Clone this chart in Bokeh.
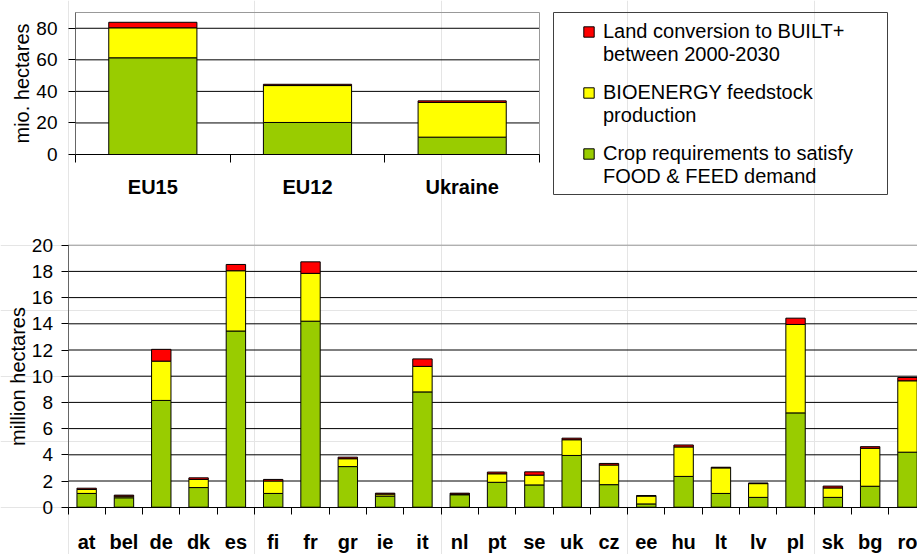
from bokeh.plotting import figure
from bokeh.models import (Range1d, FixedTicker, Legend, LegendItem, ColumnDataSource,
                          BoxAnnotation, LinearAxis)
from bokeh.embed import file_html
from bokeh.resources import INLINE

# ---------------- data ----------------
regions = ["EU15", "EU12", "Ukraine"]
region_food = [61.3, 20.3, 11.0]
region_bio = [19.0, 23.4, 22.0]
region_built = [3.5, 0.8, 1.0]

countries = ["at", "bel", "de", "dk", "es", "fi", "fr", "gr", "ie", "it", "nl", "pt",
             "se", "uk", "cz", "ee", "hu", "lt", "lv", "pl", "sk", "bg", "ro"]
food = [1.05, 0.72, 8.15, 1.5, 13.45, 1.05, 14.2, 3.1, 0.85, 8.8, 0.95, 1.9,
        1.7, 3.95, 1.72, 0.25, 2.35, 1.05, 0.75, 7.2, 0.75, 1.6, 4.2]
bio = [0.3, 0.12, 3.0, 0.62, 4.6, 0.95, 3.65, 0.6, 0.15, 1.95, 0.05, 0.65,
       0.75, 1.2, 1.5, 0.6, 2.25, 1.95, 1.05, 6.75, 0.72, 2.9, 5.45]
built = [0.1, 0.08, 0.9, 0.12, 0.48, 0.12, 0.88, 0.12, 0.07, 0.57, 0.07, 0.13,
         0.25, 0.12, 0.12, 0.04, 0.15, 0.05, 0.05, 0.48, 0.14, 0.12, 0.25]

series = ["food", "bio", "built"]
series_colors = ["#99CC00", "#FFFF00", "#FF0000"]
legend_order = ["built", "bio", "food"]
legend_line1 = {"built": "Land conversion to BUILT+",
                "bio": "BIOENERGY feedstock",
                "food": "Crop requirements to satisfy"}
legend_line2 = {"built": "between 2000-2030",
                "bio": "production",
                "food": "FOOD & FEED demand"}
top_ticks = [0, 20, 40, 60, 80]
top_max = 90
bottom_ticks = list(range(0, 21, 2))
bottom_max = 20

FONT = "Liberation Sans"

# ---------------- page geometry (pixels) ----------------
W, H = 917, 554
# bottom chart: x=0 at 67.5px, one category = 37.31px ; y=0 at 506.7px, 13.1px per unit
BX0, BPX = 67.5, 37.31 / 2
BY0, BPY = 506.7, 13.1
# top chart: plot area 75..539 x 12..154
TX0, TPX = 75.0, (539 - 75) / (2 * len(regions))
TY0, TPY = 154.0, (154 - 12) / top_max

p = figure(width=W, height=H,
           x_range=Range1d(-BX0 / BPX, (W - BX0) / BPX),
           y_range=Range1d(-(H - BY0) / BPY, BY0 / BPY),
           output_backend="svg", toolbar_location=None,
           x_axis_location=None, y_axis_location=None, min_border=0)
p.extra_x_ranges = {"tx": Range1d(-TX0 / TPX, (W - TX0) / TPX)}
p.extra_y_ranges = {"ty": Range1d(-(H - TY0) / TPY, TY0 / TPY)}
p.outline_line_color = None
p.background_fill_color = "white"


def add_chart(labels, stacks, yticks, ymax, ylabel, xr, yr, ystand, xstand, tick_out, width):
    n = len(labels)
    centers = [2 * i + 1 for i in range(n)]
    src = ColumnDataSource(dict(x=centers, **stacks))
    kw = {}
    if xr:
        kw = dict(x_range_name=xr, y_range_name=yr)
    grid = [t for t in yticks if 0 < t < ymax]
    p.segment(x0=[0] * len(grid), x1=[2 * n] * len(grid), y0=grid, y1=grid,
              line_color="black", line_width=1, **kw)
    rs = p.vbar_stack(series, x="x", width=width, source=src, fill_color=series_colors,
                      line_color="black", line_width=1, **kw)
    axkw = dict(x_range_name=xr or "default", y_range_name=yr or "default")
    xa = LinearAxis(fixed_location=0, bounds=(0, 2 * n), **axkw)
    xa.ticker = FixedTicker(ticks=centers, minor_ticks=[2 * i for i in range(n + 1)])
    xa.major_label_overrides = {c: l for c, l in zip(centers, labels)}
    xa.major_tick_line_color = None
    xa.major_tick_out = tick_out
    xa.major_tick_in = 0
    xa.minor_tick_out = tick_out
    xa.minor_tick_in = 0
    xa.minor_tick_line_color = "black"
    xa.axis_line_color = "black"
    xa.major_label_text_font = FONT
    xa.major_label_text_font_size = "20px"
    xa.major_label_text_font_style = "bold"
    xa.major_label_text_color = "black"
    xa.major_label_standoff = xstand
    p.add_layout(xa, "below")

    ya = LinearAxis(fixed_location=0, bounds=(0, ymax), **axkw)
    ya.ticker = FixedTicker(ticks=yticks)
    ya.axis_line_color = "#666666"
    ya.major_tick_line_color = "black"
    ya.major_tick_out = 7
    ya.major_tick_in = 0
    ya.minor_tick_line_color = None
    ya.major_label_text_font = FONT
    ya.major_label_text_font_size = "19px"
    ya.major_label_text_color = "black"
    ya.major_label_standoff = ystand
    ya.axis_label = ylabel
    ya.axis_label_text_font = FONT
    ya.axis_label_text_font_size = "20px"
    ya.axis_label_text_font_style = "normal"
    ya.axis_label_text_color = "black"
    ya.axis_label_standoff = 0
    p.add_layout(ya, "left")
    return n, rs, kw


# ---------------- top chart ----------------
n_top, top_rs, top_kw = add_chart(regions, dict(food=region_food, bio=region_bio, built=region_built),
                                  top_ticks, top_max, "mio. hectares", "tx", "ty", 11, 13, 8, 1.14)
p.quad(left=[0], right=[2 * n_top], bottom=[0], top=[top_max], fill_alpha=0,
       line_color="#999999", line_width=1, **top_kw)

# ---------------- bottom chart ----------------
n_bot, bot_rs, _ = add_chart(countries, dict(food=food, bio=bio, built=built),
                             bottom_ticks, bottom_max, "million hectares", None, None, 8, 17, 7, 1.04)
p.segment(x0=[0], x1=[2 * n_bot], y0=[bottom_max], y1=[bottom_max], line_color="#999999", line_width=1)

# ---------------- legend ----------------
rmap = dict(zip(series, top_rs))
leg_common = dict(padding=8, spacing=38, glyph_width=13, glyph_height=13, label_standoff=8,
                  label_text_font=FONT, label_text_font_size="20px", label_text_color="black",
                  border_line_color=None, background_fill_alpha=0)
items1 = [LegendItem(label=legend_line1[k], renderers=[rmap[k]]) for k in legend_order]
legend1 = Legend(items=items1, location=(582, H - 7 - 158), **leg_common)
p.add_layout(legend1)

# second text line of each entry (no swatch)
blank = p.vbar(x=[], top=[], width=1, fill_alpha=0, line_alpha=0)
items2 = [LegendItem(label=legend_line2[k], renderers=[blank]) for k in legend_order]
legend2 = Legend(items=items2, location=(582, H - 30 - 158), **leg_common)
p.add_layout(legend2)

box = BoxAnnotation(left=553, right=887, top=H - 12, bottom=H - 194,
                    left_units="screen", right_units="screen", top_units="screen", bottom_units="screen",
                    fill_alpha=0, line_color="#404040", line_width=1, line_alpha=1)
p.add_layout(box)

open("out.html", "w").write(file_html(p, INLINE))
